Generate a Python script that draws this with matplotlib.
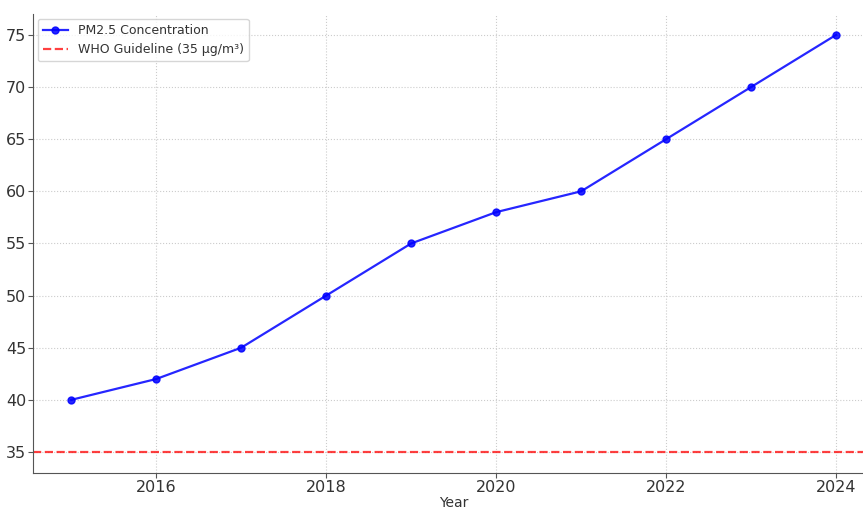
import matplotlib
matplotlib.use("Agg")
import matplotlib.pyplot as plt

# ---- Data ---------------------------------------------------------------
years = [2015, 2016, 2017, 2018, 2019, 2020, 2021, 2022, 2023, 2024]
pm25 = [40, 42, 45, 50, 55, 58, 60, 65, 70, 75]
who_guideline = 35


def main():
    fig = plt.figure(figsize=(8.63, 5.09), dpi=100)
    # the reference is cropped: top and right edges of the axes run off the image
    ax = fig.add_axes([0.0382, 0.071, 0.975, 0.9015])

    ax.plot(years, pm25, color="blue", marker="o", markersize=5,
            linewidth=1.6, alpha=0.85, label="PM2.5 Concentration")
    ax.axhline(who_guideline, color="red", linestyle="--", linewidth=1.6,
               alpha=0.75, label="WHO Guideline (35 µg/m³)")

    ax.set_xlabel("Year", fontsize=10, color="#333333", labelpad=1)
    ax.set_xticks([2016, 2018, 2020, 2022, 2024])
    ax.set_yticks([35, 40, 45, 50, 55, 60, 65, 70, 75])
    ax.tick_params(labelsize=11.5, colors="#333333", pad=1.5)
    ax.tick_params(axis="both", color="#555555")
    ax.grid(True, linestyle=":", color="#cccccc", linewidth=0.8)

    for side in ("top", "right"):
        ax.spines[side].set_visible(False)
    for side in ("left", "bottom"):
        ax.spines[side].set_color("#555555")

    ax.legend(loc="upper left", fontsize=9, frameon=True,
              labelcolor="#333333", borderaxespad=0.4)

    fig.savefig("out.png", dpi=100)


if __name__ == "__main__":
    main()
